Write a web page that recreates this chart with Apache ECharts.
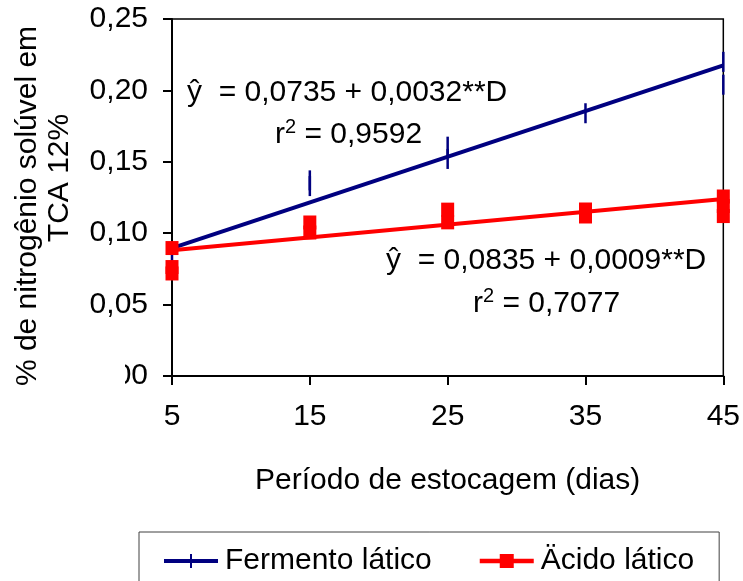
<!DOCTYPE html>
<html>
<head>
<meta charset="utf-8">
<script src="https://cdn.jsdelivr.net/npm/echarts@6/dist/echarts.min.js"></script>
<style>
  html, body { margin: 0; padding: 0; background: #fff; }
  #chart { width: 743px; height: 581px; }
</style>
</head>
<body>
<div id="chart"></div>
<script>
// Storage period (days) and axis ticks
const xTicks = [5, 15, 25, 35, 45];
const yTicks = [0, 0.05, 0.10, 0.15, 0.20, 0.25];

// Observed soluble nitrogen (% in TCA 12%) - lactic ferment
const fermentoDias = [5, 15, 15, 25, 25, 35, 45, 45];
const fermentoValores = [0.087, 0.137, 0.133, 0.1606, 0.152, 0.184, 0.220, 0.204];

// Observed soluble nitrogen - lactic acid
const acidoDias = [5, 5, 5, 15, 15, 25, 25, 35, 35, 45, 45, 45];
const acidoValores = [0.0896, 0.0763, 0.0718, 0.1075, 0.1005, 0.1165, 0.1076, 0.1166, 0.1117, 0.1257, 0.119, 0.112];

// Fitted linear models y = a + b*D
const fermentoModelo = { a: 0.0735, b: 0.0032, r2: '0,9592' };
const acidoModelo = { a: 0.0835, b: 0.0009, r2: '0,7077' };

const nomes = ['Fermento lático', 'Äcido lático'];
const cores = ['#000080', '#FF0000'];

const FONT = "'Liberation Sans', Arial, sans-serif";
const comma = (v, d) => v.toFixed(d).replace('.', ',');
const fitLine = m => [xTicks[0], xTicks[xTicks.length - 1]].map(d => [d, m.a + m.b * d]);
const zip = (xs, ys) => xs.map((x, i) => [x, ys[i]]);

// rich-text styles for the r² annotation
const r2Rich = {
  b: { fontFamily: FONT, fontSize: 30, color: '#000', lineHeight: 36, verticalAlign: 'bottom' },
  s: { fontFamily: FONT, fontSize: 20, color: '#000', lineHeight: 36, verticalAlign: 'top', padding: [3, 0, 0, 0] }
};

const chart = echarts.init(document.getElementById('chart'), null, { renderer: 'canvas' });

chart.setOption({
  animation: false,
  backgroundColor: '#fff',
  textStyle: { fontFamily: FONT, color: '#000' },
  grid: {
    left: 172, right: 19, top: 19, bottom: 205,
    show: true, borderColor: '#000', borderWidth: 1.5, backgroundColor: 'transparent'
  },
  xAxis: {
    type: 'value',
    min: xTicks[0], max: xTicks[xTicks.length - 1], interval: 10,
    name: 'Período de estocagem (dias)',
    nameLocation: 'middle', nameGap: 90,
    nameTextStyle: { fontFamily: FONT, fontSize: 30, color: '#000' },
    axisLine: { lineStyle: { color: '#000', width: 2 } },
    axisTick: { show: true, length: 9, lineStyle: { color: '#000', width: 2 } },
    axisLabel: { fontFamily: FONT, fontSize: 30, color: '#000', margin: 26 },
    splitLine: { show: false }
  },
  yAxis: {
    type: 'value',
    min: yTicks[0], max: yTicks[yTicks.length - 1], interval: 0.05,
    axisLine: { show: true, lineStyle: { color: '#000', width: 2 } },
    axisTick: { show: true, length: 9, lineStyle: { color: '#000', width: 2 } },
    axisLabel: { fontFamily: FONT, fontSize: 30, color: '#000', margin: 24,
      formatter: v => comma(v, 2) },
    splitLine: { show: false }
  },
  legend: {
    left: 139, top: 532,
    orient: 'horizontal',
    padding: [14, 25, 40, 25],
    itemGap: 48,
    itemWidth: 54, itemHeight: 14,
    symbolKeepAspect: false,
    borderColor: '#404040', borderWidth: 1,
    textStyle: { fontFamily: FONT, fontSize: 30, color: '#000', padding: [0, 0, 0, 2] },
    selectedMode: false,
    data: [
      { name: nomes[0], icon: 'path://M0,5 L54,5 L54,9 L0,9 Z M26,0 L28,0 L28,14 L26,14 Z',
        itemStyle: { color: cores[0] } },
      { name: nomes[1], icon: 'path://M0,5 L54,5 L54,9 L0,9 Z M20,1 L34,1 L34,13 L20,13 Z',
        itemStyle: { color: cores[1] } }
    ]
  },
  series: [
    {
      name: nomes[0], type: 'line', data: fitLine(fermentoModelo),
      showSymbol: false, lineStyle: { color: cores[0], width: 4 }, itemStyle: { color: cores[0] }, z: 2
    },
    {
      name: nomes[0], type: 'scatter', data: zip(fermentoDias, fermentoValores),
      symbol: 'rect', symbolSize: [2.5, 20], itemStyle: { color: cores[0], opacity: 1 }, z: 3
    },
    {
      name: nomes[1], type: 'line', data: fitLine(acidoModelo),
      showSymbol: false, lineStyle: { color: cores[1], width: 4 }, itemStyle: { color: cores[1] }, z: 4
    },
    {
      name: nomes[1], type: 'scatter', data: zip(acidoDias, acidoValores),
      symbol: 'rect', symbolSize: [13, 14], itemStyle: { color: cores[1], opacity: 1 }, z: 5
    }
  ],
  graphic: [
    // y-axis title, two rotated lines
    { type: 'text', x: 28, y: 206, rotation: Math.PI / 2,
      style: { text: '% de nitrogênio solúvel em', font: '30px ' + FONT, fill: '#000',
        textAlign: 'center', textVerticalAlign: 'middle' } },
    { type: 'text', x: 60, y: 178, rotation: Math.PI / 2,
      style: { text: 'TCA 12%', font: '30px ' + FONT, fill: '#000',
        textAlign: 'center', textVerticalAlign: 'middle' } },
    // regression equations
    { type: 'text', x: 187, y: 108, z: 10,
      style: { text: 'ŷ  = ' + comma(fermentoModelo.a, 4) + ' + ' + comma(fermentoModelo.b, 4) + '**D',
        font: '30px ' + FONT, fill: '#000', textAlign: 'left', textVerticalAlign: 'bottom' } },
    { type: 'text', x: 275, y: 150, z: 10,
      style: { text: '{b|r}{s|2}{b| = ' + fermentoModelo.r2 + '}', rich: r2Rich,
        textAlign: 'left', textVerticalAlign: 'bottom' } },
    { type: 'text', x: 386, y: 276, z: 10,
      style: { text: 'ŷ  = ' + comma(acidoModelo.a, 4) + ' + ' + comma(acidoModelo.b, 4) + '**D',
        font: '30px ' + FONT, fill: '#000', textAlign: 'left', textVerticalAlign: 'bottom' } },
    { type: 'text', x: 473, y: 319, z: 10,
      style: { text: '{b|r}{s|2}{b| = ' + acidoModelo.r2 + '}', rich: r2Rich,
        textAlign: 'left', textVerticalAlign: 'bottom' } },
    // white panel beside the lowest tick label
    { type: 'rect', z: 100, shape: { x: 80, y: 360, width: 45, height: 32 },
      style: { fill: '#fff' } }
  ]
});
</script>
</body>
</html>
